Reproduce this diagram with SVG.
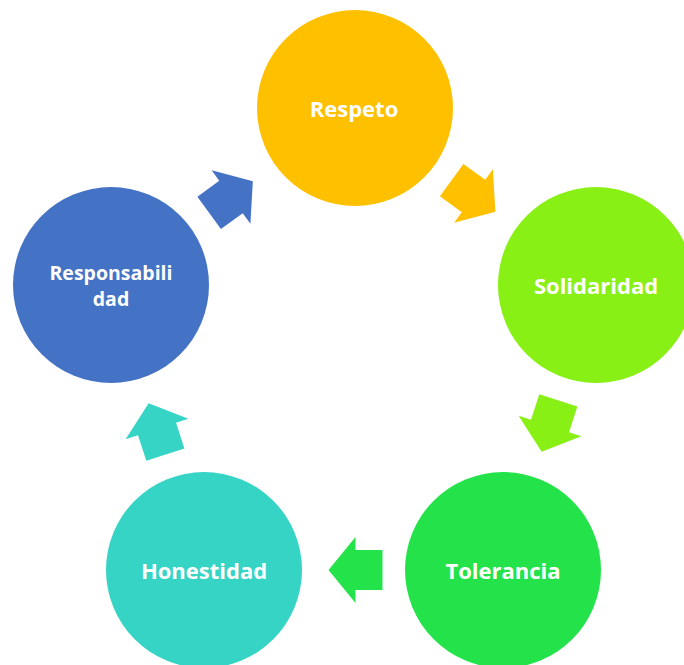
<svg xmlns="http://www.w3.org/2000/svg" width="684" height="665" viewBox="0 0 684 665">
<defs>
<style>
text{font-family:"Open Sans","Liberation Sans",sans-serif;font-weight:bold;fill:#fff;text-anchor:middle;dominant-baseline:central}
.lbl{font-size:22px}
.sm{font-size:19.5px}
</style>
<polygon id="arr" points="-27,-20 0,-20 0,-33 27,0 0,33 0,20 -27,20"/>
</defs>
<rect width="684" height="665" fill="#fff"/>
<g id="connectors">
<use href="#arr" fill="#FFC000" transform="translate(473.5,196) rotate(36)"/>
<use href="#arr" fill="#88F014" transform="translate(550,426) rotate(108)"/>
<use href="#arr" fill="#24E34A" transform="translate(355.5,570) rotate(180)"/>
<use href="#arr" fill="#36D4C5" transform="translate(157,429) rotate(252)"/>
<use href="#arr" fill="#4472C4" transform="translate(231,197) rotate(324)"/>
</g>
<g id="respeto"><circle cx="355" cy="108" r="98" fill="#FFC000"/><text class="lbl" x="354" y="108">Respeto</text></g>
<g id="solidaridad"><circle cx="596" cy="285" r="98" fill="#88F014"/><text class="lbl" x="596" y="285">Solidaridad</text></g>
<g id="tolerancia"><circle cx="503" cy="570" r="98" fill="#24E34A"/><text class="lbl" x="503" y="570">Tolerancia</text></g>
<g id="honestidad"><circle cx="204" cy="570" r="98" fill="#36D4C5"/><text class="lbl" x="204" y="570">Honestidad</text></g>
<g id="responsabilidad"><circle cx="111" cy="285" r="98" fill="#4472C4"/><text class="sm" x="111" y="272">Responsabili</text><text class="sm" x="111" y="298">dad</text></g>
</svg>
